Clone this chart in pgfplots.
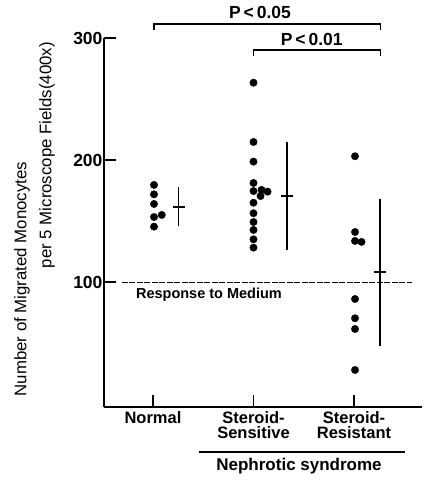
\documentclass[border=0pt]{standalone}
\usepackage{fontspec}
\setmainfont{Liberation Sans}
\usepackage{pgfplots}
\pgfplotsset{compat=1.18}

\newcommand{\lab}{\fontsize{16.5}{15}\selectfont\bfseries}

\begin{document}
\begin{tikzpicture}
\begin{axis}[
  scale only axis,
  width=318pt, height=368.4pt,
  xmin=0.5124, xmax=3.6766,
  ymin=-2, ymax=300,
  axis x line=bottom, axis y line=left,
  axis line style={line width=1.8pt,-},
  tick align=inside,
  major tick length=12pt,
  tick style={line width=1.6pt,black},
  xtick={1,2,3},
  xticklabels={Normal,Steroid-\\Sensitive,Steroid-\\Resistant},
  xticklabel style={align=center,anchor=north,font=\lab,yshift=-1pt},
  ytick={100,200,300},
  yticklabel style={font=\fontsize{17.5}{17}\selectfont\bfseries,xshift=2pt},
  /pgf/number format/assume math mode=true,
  clip=false,
]
% individual patients
\addplot[only marks,mark=*,mark size=3.7pt,black] coordinates {
  (1.01,179.8) (1.01,172.1) (1.01,164.2) (1.01,153.5) (1.01,145.6) (1.087,155.2)
};
\addplot[only marks,mark=*,mark size=3.7pt,black] coordinates {
  (2.0,263.6) (2.0,215) (2.0,198.9) (2.0,181.4) (2.0,174.8)
  (2.08,175.7) (2.14,174.3) (2.07,170.7)
  (2.0,165.2) (2.0,156.6) (2.0,149.4) (2.0,142.9) (2.0,135.2) (2.0,128.4)
};
\addplot[only marks,mark=*,mark size=3.7pt,black] coordinates {
  (3.01,203.3) (3.01,141.2) (3.01,133.9) (3.075,133.1)
  (3.01,86.3) (3.01,70.5) (3.01,61.7) (3.01,28.1)
};
% mean +- SD
\addplot[only marks,mark=-,mark size=6pt,mark options={line width=1.8pt},black,
  error bars/.cd, y dir=both, y explicit,
  error mark=-, error mark options={mark size=4pt,line width=1.6pt},
  error bar style={line width=1.6pt}]
  coordinates {
  (1.254,161.5) += (0,13.3) -= (0,12.3)
  (2.336,170.5) += (0,41.5) -= (0,40.5)
  (3.259,108.7) += (0,56.1) -= (0,57.4)
};
% response to medium
\addplot[black,line width=1.3pt,dash pattern=on 6pt off 1.5pt] coordinates {(0.69,100) (3.577,100)};
\node[font=\fontsize{14.5}{14}\selectfont\bfseries] at (axis cs:1.557,89.6) {Response to Medium};
% significance brackets
\addplot[black,line width=1.5pt] coordinates {(1.01,306.8) (1.01,311.7) (3.265,311.7) (3.265,306.8)};
\addplot[black,line width=1.5pt] coordinates {(2.0,285.5) (2.0,290.4) (3.265,290.4) (3.265,285.5)};
\node[font=\fontsize{17.5}{17}\selectfont\bfseries] at (axis cs:2.065,321) {P\,<\,0.05};
\node[font=\fontsize{17.5}{17}\selectfont\bfseries] at (axis cs:2.58,299.2) {P\,<\,0.01};
% group line
\addplot[black,line width=1.3pt] coordinates {(1.458,-39.1) (3.507,-39.1)};
\node[font=\fontsize{17}{17}\selectfont\bfseries] at (axis cs:2.453,-50.6) {Nephrotic syndrome};
% y label
\node[rotate=90,font=\fontsize{16.8}{17}\selectfont] at (axis cs:-0.303,102.7) {Number of Migrated Monocytes};
\node[rotate=90,font=\fontsize{16.8}{17}\selectfont] at (axis cs:-0.055,204.3) {per 5 Microscope Fields(400x)};
\end{axis}
\pgfresetboundingbox
\useasboundingbox ([shift={(-104pt,-74.3pt)}]current axis.south west) rectangle ++(423pt,481pt);
\end{tikzpicture}
\end{document}
